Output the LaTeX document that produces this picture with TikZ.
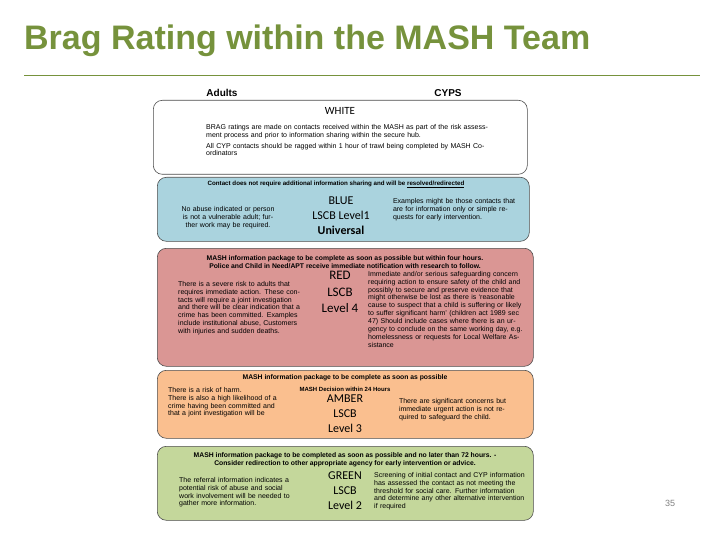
\documentclass[tikz,border=0pt]{standalone}
\usepackage{fontspec}
\setmainfont{Liberation Sans}
\newfontfamily\carlitof{Carlito}
\begin{document}
\begin{tikzpicture}[x=1pt,y=-1pt,
 band/.style={draw=black!70,rounded corners=9pt,line width=0.6pt},
 small/.style={font=\fontsize{7}{7.9}\selectfont,align=left,inner sep=0pt},
 head/.style={font=\fontsize{6.8}{8.4}\selectfont\bfseries,align=center,inner sep=0pt},
 mid/.style={font=\carlitof\fontsize{12}{15}\selectfont,align=center,inner sep=0pt}]
\useasboundingbox (0,0) rectangle (720,540);
\definecolor{tgreen}{RGB}{118,146,60}
\node[anchor=west,text=tgreen,font=\fontsize{34}{38}\selectfont\bfseries,inner sep=0pt] (title) at (24,41) {Brag Rating within the MASH Team};
\coordinate (l1) at (24,76); \coordinate (l2) at (700,76);
\draw[tgreen,line width=1pt] (l1) -- (l2);
\node[text=gray,font=\fontsize{9}{10}\selectfont] (pg) at (670,503) {35};
\node[font=\fontsize{10}{12}\selectfont\bfseries] (ad) at (222,93) {Adults};
\node[font=\fontsize{10}{12}\selectfont\bfseries] (cy) at (448,93) {CYPS};
% white
\node[band,fill=white,minimum width=374,minimum height=74,anchor=north west] (w) at (153,100) {};
\node[mid,font=\carlitof\fontsize{11}{13}\selectfont] (wt) at (340,111) {WHITE};
\node[small,anchor=north west,text width=290] (wx) at (206,124) {BRAG ratings are made on contacts received within the MASH as part of the risk assessment process and prior to information sharing within the secure hub.\\[3pt]All CYP contacts should be ragged within 1 hour of trawl being completed by MASH Co-ordinators};
% blue
\node[band,fill={rgb,255:red,170;green,211;blue,222},minimum width=372,minimum height=64,anchor=north west] (b) at (157,177) {};
\node[head,font=\fontsize{6.2}{7.4}\selectfont\bfseries] (bh) at (336,184) {Contact does not require additional information sharing and will be \underline{resolved/redirected}};
\node[small,align=center,text width=125] (bl) at (228,218) {No abuse indicated or person is not a vulnerable adult; further work may be required.};
\node[mid,font=\carlitof\fontsize{12}{15}\selectfont] (bm) at (341,216) {BLUE\\LSCB Level1\\\textbf{Universal}};
\node[small,text width=130] (br) at (458,210) {Examples might be those contacts that are for information only or simple requests for early intervention.};
% red
\node[band,fill={rgb,255:red,218;green,150;blue,148},minimum width=376,minimum height=118,anchor=north west] (r) at (157,248) {};
\node[head] (rh) at (345,262) {MASH information package to be complete as soon as possible but within four hours.\\Police and Child in Need/APT receive immediate notification with research to follow.};
\node[small,anchor=north west,text width=122] (rl) at (178,281) {There is a severe risk to adults that requires immediate action. These contacts will require a joint investigation and there will be clear indication that a crime has been committed. Examples include institutional abuse, Customers with injuries and sudden deaths.};
\node[mid,font=\carlitof\fontsize{13}{16.5}\selectfont] (rm) at (340,292) {RED\\LSCB\\Level 4};
\node[small,anchor=north west,text width=157] (rr) at (368,271) {Immediate and/or serious safeguarding concern requiring action to ensure safety of the child and possibly to secure and preserve evidence that might otherwise be lost as there is ‘reasonable cause to suspect that a child is suffering or likely to suffer significant harm’ (children act 1989 sec 47) Should include cases where there is an urgency to conclude on the same working day, e.g. homelessness or requests for Local Welfare Assistance};
% amber
\node[band,fill={rgb,255:red,250;green,191;blue,143},minimum width=376,minimum height=68,anchor=north west] (a) at (157,370) {};
\node[head] (ah) at (345,378) {MASH information package to be complete as soon as possible};
\node[head,font=\fontsize{6}{7}\selectfont\bfseries] (ah2) at (345,389) {MASH Decision within 24 Hours};
\node[small,anchor=north west,text width=112] (al) at (168,387) {There is a risk of harm.\\There is also a high likelihood of a crime having been committed and that a joint investigation will be};
\node[mid] (am) at (345,414) {AMBER\\LSCB\\Level 3};
\node[small,text width=118] (ar) at (458,410) {There are significant concerns but immediate urgent action is not required to safeguard the child.};
% green
\node[band,fill={rgb,255:red,196;green,215;blue,155},minimum width=376,minimum height=74,anchor=north west] (g) at (157,446) {};
\node[head] (gh) at (345,460) {MASH information package to be completed as soon as possible and no later than 72 hours. -\\Consider redirection to other appropriate agency for early intervention or advice.};
\node[small,anchor=north west,text width=118] (gl) at (179,477) {The referral information indicates a potential risk of abuse and social work involvement will be needed to gather more information.};
\node[mid] (gm) at (345,491) {GREEN\\LSCB\\Level 2};
\node[small,anchor=north west,text width=152] (gr) at (374,472) {Screening of initial contact and CYP information has assessed the contact as not meeting the threshold for social care. Further information and determine any other alternative intervention if required};
\end{tikzpicture}
\end{document}
